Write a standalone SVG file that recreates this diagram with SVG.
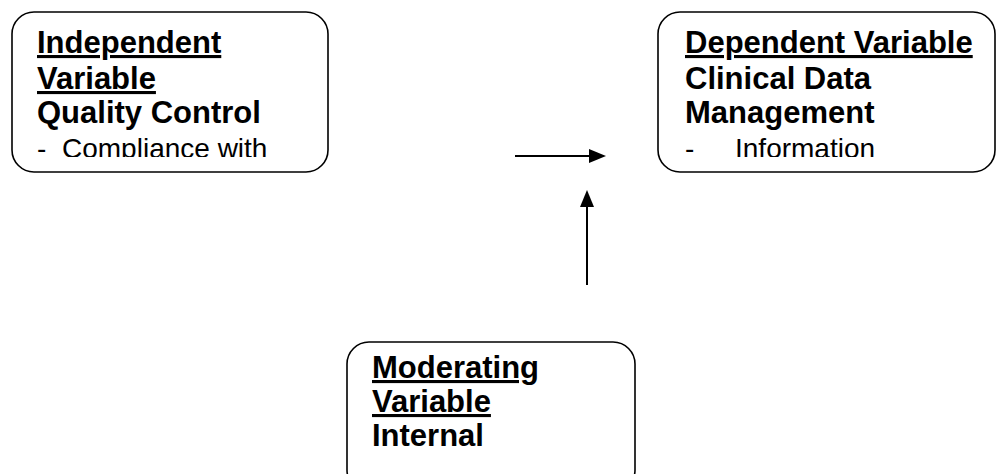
<svg xmlns="http://www.w3.org/2000/svg" width="997" height="474" viewBox="0 0 997 474">
<style>
.box{fill:#fff;stroke:#000;stroke-width:1.6}
.t{font-family:"Liberation Sans",Arial,sans-serif;font-size:28px;fill:#000}
.b{font-weight:bold;font-size:31px}
.u{text-decoration:underline}
.c{stroke:#000;stroke-width:2;fill:none}
</style>
<defs>
<clipPath id="c1"><rect x="12" y="12" width="316" height="145"/></clipPath>
<clipPath id="c2"><rect x="658" y="12" width="337" height="145"/></clipPath>
</defs>
<g id="independent">
<rect class="box" x="12" y="12" width="316" height="160" rx="22"/>
<g clip-path="url(#c1)">
<text class="t b u" x="37" y="53">Independent</text>
<text class="t b u" x="37" y="89">Variable</text>
<text class="t b" x="37" y="123">Quality Control</text>
<text class="t" x="37" y="158">-</text>
<text class="t" x="62" y="158">Compliance with</text>
</g>
</g>
<g id="dependent">
<rect class="box" x="658" y="12" width="337" height="160" rx="22"/>
<g clip-path="url(#c2)">
<text class="t b u" x="685" y="53">Dependent Variable</text>
<text class="t b" x="685" y="89">Clinical Data</text>
<text class="t b" x="685" y="123">Management</text>
<text class="t" x="685" y="158">-</text>
<text class="t" x="735" y="158">Information</text>
</g>
</g>
<g id="moderating">
<rect class="box" x="347" y="342" width="288" height="150" rx="22"/>
<text class="t b u" x="372" y="378">Moderating</text>
<text class="t b u" x="372" y="412">Variable</text>
<text class="t b" x="372" y="446">Internal</text>
</g>
<g id="connectors">
<line class="c" x1="515" y1="156" x2="592" y2="156"/>
<path d="M589,149 L606,156 L589,163 Z" fill="#000"/>
<line class="c" x1="587" y1="285" x2="587" y2="204"/>
<path d="M580,207 L587,190 L594,207 Z" fill="#000"/>
</g>
</svg>
